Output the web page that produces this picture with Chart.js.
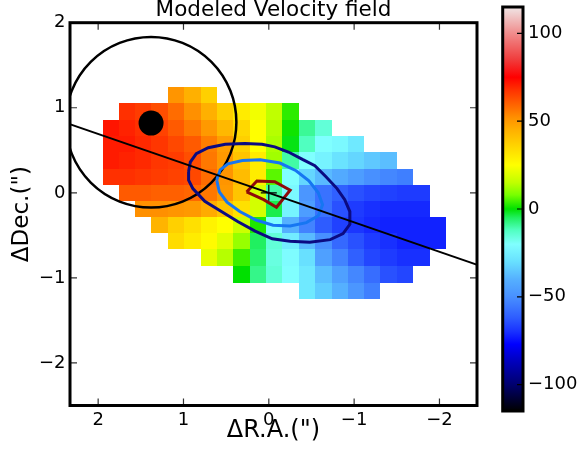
<!DOCTYPE html>
<html lang="en">
<head>
<meta charset="utf-8" />
<title>Modeled Velocity field</title>
<style>
    body { margin: 0; background: #fff; }
    #wrap { position: relative; width: 583px; height: 450px; }
    #field { position: absolute; left: 0; top: 0; }
    #cbar { position: absolute; left: 480px; top: 0; }
</style>
</head>
<body>
<div id="wrap">
    <canvas id="field" width="480" height="450"></canvas>
    <canvas id="cbar" width="103" height="450"></canvas>
</div>
<script src="https://cdn.jsdelivr.net/npm/chart.js@4.4.1/dist/chart.umd.min.js"></script>
<script>
    // pixel centres of the model map (arcsec)
    const ra = [1.85, 1.66, 1.47, 1.28, 1.09, 0.90, 0.70, 0.51, 0.32, 0.13, -0.06,
        -0.25, -0.45, -0.64, -0.83, -1.02, -1.21, -1.40, -1.60, -1.79, -1.98];
    const dec = [1.15, 0.96, 0.76, 0.57, 0.38, 0.19, 0, -0.19, -0.38, -0.57, -0.76, -0.96, -1.15];

    // model velocities (km/s), one row per dec, one column per ra
    const _ = null;
    const velocity = [
        [_, _, _, _, 51, 45, 37, _, _, _, _, _, _, _, _, _, _, _, _, _, _],
        [_, 68, 66, 63, 58, 52, 45, 37, 30, 23, 15, 3, _, _, _, _, _, _, _, _, _],
        [72, 70, 68, 65, 61, 56, 50, 43, 35, 25, 14, 1, -9, -15, _, _, _, _, _, _, _],
        [71, 71, 69, 67, 64, 61, 55, 49, 37, 25, 13, -1, -12, -20, -22, -27, _, _, _, _, _],
        [71, 70, 69, 67, 66, 63, 56, 50, 40, 30, 12, -10, -20, -24, -29, -32, -35, -37, _, _, _],
        [68, 68, 67, 66, 65, 64, 58, 51, 42, 30, 6, -20, -32, -38, -42, -46, -50, -52, -54, _, _],
        [_, 61, 61, 60, 60, 59, 56, 50, 40, 18, -10, -22, -48, -57, -61, -64, -66, -67, -68, -68, _],
        [_, _, 52, 52, 51, 50, 46, 40, 33, 18, -4, -24, -46, -57, -64, -68, -70, -71, -71, -71, _],
        [_, _, _, 44, 37, 33, 28, 25, 17, 2, -20, -40, -53, -62, -67, -69, -71, -72, -72, -72, -72],
        [_, _, _, _, 34, 30, 26, 20, 11, -5, -15, -26, -38, -50, -59, -64, -68, -70, -72, -72, -72],
        [_, _, _, _, _, _, 21, 14, 4, -6, -16, -21, -30, -45, -53, -61, -66, -68, -70, -70, _],
        [_, _, _, _, _, _, _, _, 0, -8, -15, -20, -27, -37, -45, -52, -58, -64, -66, _, _],
        [_, _, _, _, _, _, _, _, _, _, _, _, -27, -34, -40, -48, -54, _, _, _, _]
    ];

    // contours over the map
    const contourOuter = [
        [0.94, 0.25], [0.92, 0.36], [0.85, 0.46], [0.71, 0.53], [0.51, 0.57], [0.28, 0.58],
        [0.08, 0.57], [-0.07, 0.54], [-0.23, 0.48], [-0.40, 0.39], [-0.54, 0.32], [-0.67, 0.19],
        [-0.80, 0.05], [-0.89, -0.08], [-0.95, -0.22], [-0.95, -0.37], [-0.87, -0.48],
        [-0.72, -0.55], [-0.48, -0.58], [-0.25, -0.57], [-0.04, -0.54], [0.16, -0.45],
        [0.36, -0.34], [0.57, -0.21], [0.75, -0.10], [0.89, 0.05], [0.94, 0.15], [0.94, 0.25]
    ];
    const contourMiddle = [
        [0.61, 0.15], [0.57, 0.27], [0.48, 0.34], [0.31, 0.38], [0.10, 0.39], [-0.13, 0.35],
        [-0.32, 0.26], [-0.47, 0.14], [-0.58, 0.00], [-0.63, -0.14], [-0.58, -0.27],
        [-0.44, -0.35], [-0.25, -0.39], [-0.05, -0.38], [0.15, -0.32], [0.34, -0.22],
        [0.49, -0.11], [0.58, 0.01], [0.61, 0.15]
    ];
    const contourInner = [
        [0.26, 0.01], [0.14, 0.14], [-0.07, 0.13], [-0.25, 0.03], [-0.09, -0.17], [0.06, -0.08], [0.26, 0.01]
    ];

    const majorAxis = [[2.6, 0.9], [-2.6, -0.9]];
    const beam = { x: 1.38, y: 0.83, r: 1.0 };
    const nucleus = [[1.38, 0.82]];
    const kinCentre = [[0, 0]];

    const xTicks = [2, 1, 0, -1, -2];
    const yTicks = [2, 1, 0, -1, -2];
    const cbTicks = [100, 50, 0, -50, -100];
    const cbMin = -115, cbMax = 115;

    const family = "'DejaVu Sans', sans-serif";

    // colour table
    const cmap = [
        [-115, [0, 0, 0]], [-100, [0, 0, 110]], [-85, [0, 0, 200]], [-77, [0, 0, 255]],
        [-70, [24, 48, 255]], [-62, [46, 92, 255]], [-50, [72, 144, 255]], [-40, [85, 176, 255]],
        [-30, [104, 224, 255]], [-20, [128, 255, 255]], [-12, [80, 255, 192]], [-5, [32, 240, 96]],
        [0, [0, 224, 0]], [8, [120, 255, 0]], [15, [192, 255, 0]], [25, [255, 255, 0]],
        [35, [255, 216, 0]], [45, [255, 176, 0]], [52, [255, 144, 0]], [60, [255, 96, 0]],
        [68, [255, 48, 0]], [75, [255, 0, 0]], [85, [240, 60, 60]], [100, [240, 140, 140]],
        [115, [240, 230, 230]]
    ];

    function colourFor(v) {
        if (v <= cmap[0][0]) return 'rgb(' + cmap[0][1].join(',') + ')';
        for (let i = 1; i < cmap.length; i++) {
            if (v <= cmap[i][0]) {
                const a = cmap[i - 1], b = cmap[i];
                const t = (v - a[0]) / (b[0] - a[0]);
                const c = a[1].map((k, j) => Math.round(k + t * (b[1][j] - k)));
                return 'rgb(' + c.join(',') + ')';
            }
        }
        return 'rgb(' + cmap[cmap.length - 1][1].join(',') + ')';
    }

    // cell edges half way between neighbouring centres
    function edges(c) {
        return c.map((v, i) => {
            const prev = i > 0 ? c[i - 1] : v + (v - c[i + 1]);
            const next = i < c.length - 1 ? c[i + 1] : v + (v - c[i - 1]);
            return [(prev + v) / 2, (v + next) / 2];
        });
    }

    const fmt = v => v < 0 ? '\u2212' + Math.abs(v) : String(v);
    const pts = arr => arr.map(p => ({ x: p[0], y: p[1] }));
    const noPad = s => { s.paddingLeft = 0; s.paddingRight = 0; s.paddingTop = 0; s.paddingBottom = 0; };

    const mapPlugin = {
        id: 'velmap',
        beforeDatasetsDraw(chart) {
            const { ctx, chartArea: a, scales: { x, y } } = chart;
            ctx.save();
            ctx.beginPath();
            ctx.rect(a.left, a.top, a.right - a.left, a.bottom - a.top);
            ctx.clip();
            const ex = edges(ra), ey = edges(dec);
            velocity.forEach((row, r) => {
                row.forEach((v, c) => {
                    if (v === null) return;
                    const x0 = Math.round(x.getPixelForValue(ex[c][0]));
                    const x1 = Math.round(x.getPixelForValue(ex[c][1]));
                    const y0 = Math.round(y.getPixelForValue(ey[r][0]));
                    const y1 = Math.round(y.getPixelForValue(ey[r][1]));
                    ctx.fillStyle = colourFor(v);
                    ctx.fillRect(x0, y0, x1 - x0, y1 - y0);
                });
            });
            // beam circle
            const cx = x.getPixelForValue(beam.x), cy = y.getPixelForValue(beam.y);
            const rad = Math.abs(x.getPixelForValue(beam.x + beam.r) - cx);
            ctx.beginPath();
            ctx.arc(cx, cy, rad, 0, 2 * Math.PI);
            ctx.lineWidth = 2.5;
            ctx.strokeStyle = '#000';
            ctx.stroke();
            ctx.restore();
        },
        afterDraw(chart) {
            const { ctx, chartArea: a, scales: { x, y } } = chart;
            ctx.save();
            ctx.strokeStyle = '#333';
            ctx.lineWidth = 1.2;
            ctx.beginPath();
            x.ticks.forEach(t => {
                const p = x.getPixelForValue(t.value);
                ctx.moveTo(p, a.bottom); ctx.lineTo(p, a.bottom - 7);
                ctx.moveTo(p, a.top); ctx.lineTo(p, a.top + 7);
            });
            y.ticks.forEach(t => {
                const p = y.getPixelForValue(t.value);
                ctx.moveTo(a.left, p); ctx.lineTo(a.left + 7, p);
                ctx.moveTo(a.right, p); ctx.lineTo(a.right - 7, p);
            });
            ctx.stroke();
            ctx.strokeStyle = '#000';
            ctx.lineWidth = 3;
            ctx.strokeRect(a.left, a.top, a.right - a.left, a.bottom - a.top);
            ctx.restore();
        }
    };

    new Chart(document.getElementById('field'), {
        type: 'scatter',
        data: {
            datasets: [
                { data: pts(kinCentre), pointStyle: 'cross', pointRadius: 8, borderColor: '#000', borderWidth: 1.2, order: 0 },
                { data: pts(nucleus), pointStyle: 'circle', pointRadius: 12.5, backgroundColor: '#000', borderWidth: 0, order: 1 },
                { data: pts(majorAxis), showLine: true, pointRadius: 0, borderColor: '#000', borderWidth: 1.8, order: 2 },
                { data: pts(contourInner), showLine: true, pointRadius: 0, borderColor: '#8e0a0a', borderWidth: 3, order: 3 },
                { data: pts(contourMiddle), showLine: true, pointRadius: 0, borderColor: '#1676f2', borderWidth: 3, order: 4 },
                { data: pts(contourOuter), showLine: true, pointRadius: 0, borderColor: '#0b0b82', borderWidth: 3, order: 5 }
            ]
        },
        options: {
            responsive: false,
            animation: false,
            events: [],
            layout: { autoPadding: false, padding: { left: 0, right: 3, top: 0, bottom: 0 } },
            plugins: {
                legend: { display: false },
                tooltip: { enabled: false },
                title: {
                    display: true,
                    text: 'Modeled Velocity field',
                    color: '#000',
                    fullSize: false,
                    font: { family, size: 21.5, weight: 'normal', lineHeight: 1.0 },
                    padding: { top: 0, bottom: 1.2 }
                }
            },
            scales: {
                x: {
                    type: 'linear',
                    reverse: true,
                    min: -2.44,
                    max: 2.33,
                    afterBuildTicks: s => { s.ticks = xTicks.map(v => ({ value: v })); },
                    afterFit: s => { s.height = 44.5; noPad(s); },
                    grid: { display: false, drawTicks: false },
                    border: { display: false },
                    ticks: { padding: 4, color: '#000', font: { family, size: 18 }, callback: fmt },
                    title: { display: true, text: '\u0394R.A.(")', color: '#000', font: { family, size: 24 }, padding: { top: 0, bottom: 5.1 } }
                },
                y: {
                    type: 'linear',
                    min: -2.5,
                    max: 2.0,
                    afterBuildTicks: s => { s.ticks = yTicks.map(v => ({ value: v })); },
                    afterFit: s => { s.width = 70; noPad(s); },
                    grid: { display: false, drawTicks: false },
                    border: { display: false },
                    ticks: { padding: 4.5, color: '#000', font: { family, size: 18 }, callback: fmt },
                    title: { display: true, text: '\u0394Dec.(")', color: '#000', font: { family, size: 23 }, padding: { top: 8.7, bottom: 0 } }
                }
            }
        },
        plugins: [mapPlugin]
    });

    const cbarPlugin = {
        id: 'cbar',
        beforeDatasetsDraw(chart) {
            const { ctx, chartArea: a, scales: { y } } = chart;
            const yb = y.getPixelForValue(cbMin), yt = y.getPixelForValue(cbMax);
            const g = ctx.createLinearGradient(0, yb, 0, yt);
            cmap.forEach(s => g.addColorStop((s[0] - cbMin) / (cbMax - cbMin), 'rgb(' + s[1].join(',') + ')'));
            ctx.save();
            ctx.fillStyle = g;
            ctx.fillRect(a.left, a.top, a.right - a.left, a.bottom - a.top);
            ctx.strokeStyle = '#000';
            ctx.lineWidth = 1.2;
            ctx.beginPath();
            y.ticks.forEach(t => {
                const p = y.getPixelForValue(t.value);
                ctx.moveTo(a.right, p); ctx.lineTo(a.right - 6, p);
            });
            ctx.stroke();
            ctx.lineWidth = 3;
            ctx.strokeRect(a.left, a.top, a.right - a.left, a.bottom - a.top);
            ctx.restore();
        }
    };

    new Chart(document.getElementById('cbar'), {
        type: 'scatter',
        data: { datasets: [] },
        options: {
            responsive: false,
            animation: false,
            events: [],
            layout: { padding: { left: 22.7, right: 0, top: 7, bottom: 39 } },
            plugins: { legend: { display: false }, tooltip: { enabled: false } },
            scales: {
                x: { display: false, min: 0, max: 1 },
                y: {
                    position: 'right',
                    min: cbMin,
                    max: cbMax,
                    afterBuildTicks: s => { s.ticks = cbTicks.map(v => ({ value: v })); },
                    afterFit: s => { s.width = 60; noPad(s); },
                    grid: { display: false, drawTicks: false },
                    border: { display: false },
                    ticks: { padding: 5, color: '#000', font: { family, size: 18 }, callback: fmt }
                }
            }
        },
        plugins: [cbarPlugin]
    });
</script>
</body>
</html>
